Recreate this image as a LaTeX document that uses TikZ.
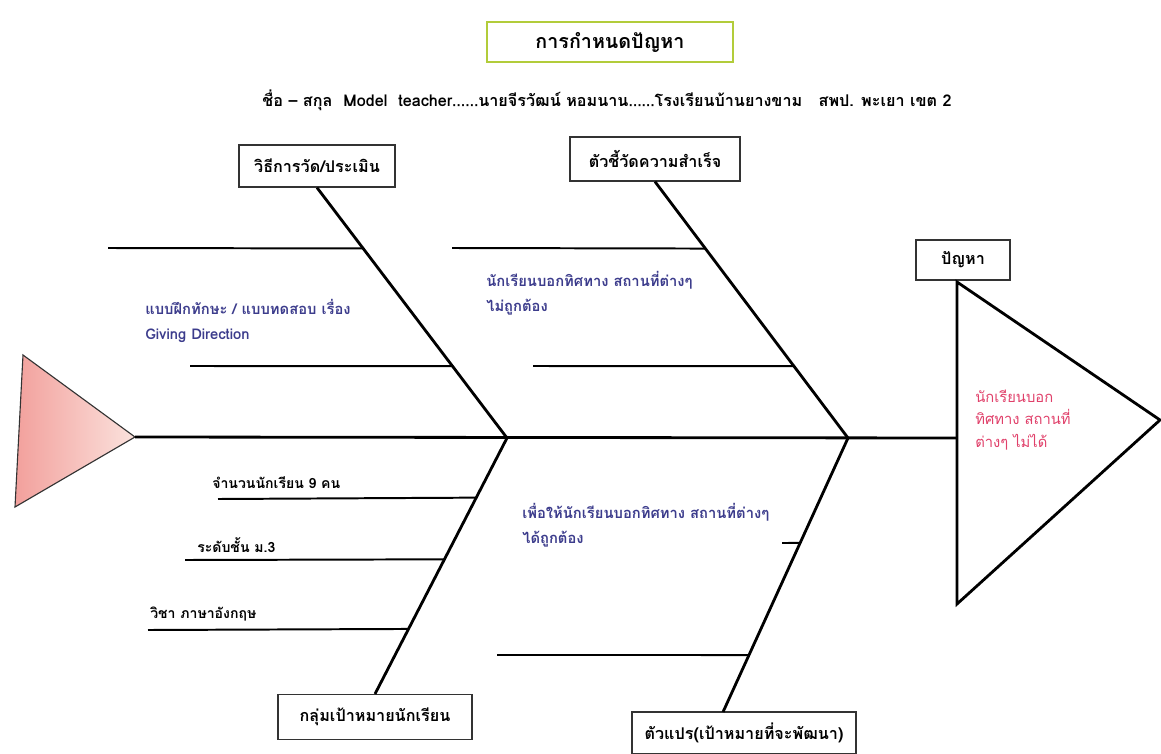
\documentclass[tikz,border=0pt]{standalone}
\usepackage{fontspec}
\newfontfamily\thaifont[Script=Thai]{Loma}
\usetikzlibrary{positioning,calc}
\definecolor{titlegreen}{HTML}{B2CC3A}
\definecolor{causeblue}{HTML}{3C3C8C}
\definecolor{effectred}{HTML}{E0406A}
\definecolor{tailpink}{HTML}{F2A09C}
\definecolor{taillight}{HTML}{FBE2DD}

\begin{document}
\begin{tikzpicture}[x=0.025cm,y=-0.025cm,
		headbox/.style={draw=black!80,line width=0.9pt,fill=white,inner sep=0pt,font=\thaifont\bfseries\fontsize{11.5}{13}\selectfont},
		bone/.style={line width=2pt},
		rib/.style={line width=1.4pt},
		cause/.style={anchor=west,inner sep=0pt,align=left,text=causeblue,font=\thaifont\bfseries\fontsize{10.5}{17.5}\selectfont},
		fact/.style={anchor=west,inner sep=0pt,font=\thaifont\bfseries\fontsize{10}{12}\selectfont}]
	\useasboundingbox (0,0) rectangle (1161,754);

	% heading
	\node[draw=titlegreen,line width=2pt,minimum width=6.15cm,minimum height=1cm,
		font=\thaifont\bfseries\fontsize{14}{16}\selectfont] (title) at (610,42) {การกำหนดปัญหา};
	\node[font=\thaifont\bfseries\fontsize{11.5}{13}\selectfont] (teacher) at (607,100)
		{ชื่อ – สกุล\ \ Model\ \ teacher……นายจีรวัฒน์ หอมนาน……โรงเรียนบ้านยางขาม\ \ \ สพป. พะเยา เขต 2};

	% boxes at the ends of the bones
	\node[headbox,minimum width=3.9cm,minimum height=1.05cm] (measure) at (317,166) {วิธีการวัด/ประเมิน};
	\node[headbox,minimum width=4.25cm,minimum height=1.1cm] (indicator) at (655,159) {ตัวชี้วัดความสำเร็จ};
	\node[headbox,minimum width=2.35cm,minimum height=1cm] (problem) at (963,260) {ปัญหา};
	\node[headbox,minimum width=4.85cm,minimum height=1.12cm] (target) at (375,717) {กลุ่มเป้าหมายนักเรียน};
	\node[headbox,minimum width=5.6cm,minimum height=1.05cm] (variable) at (744,733) {ตัวแปร(เป้าหมายที่จะพัฒนา)};

	\coordinate (tailtop) at (23,355);
	\coordinate (tailbot) at (15,507);
	\coordinate (tailtip) at (135,437);
	\coordinate (j1) at (507,438);
	\coordinate (j2) at (848,438);
	\coordinate (headtop) at (957,282);
	\coordinate (headtip) at (1160,420);
	\coordinate (headbot) at (957,604);
	\coordinate (varfoot) at (723,712);

	% fish tail and head
	\draw[line width=0.8pt,draw=black!80,left color=tailpink,right color=taillight]
		(tailtop) -- (tailtip) -- (tailbot) -- cycle;
	\draw[bone] (headtop) -- (headtip) -- (headbot) -- cycle;
	\draw[bone] (tailtip) -- (headtop |- j1);

	% bones
	\draw[bone] (measure.south) -- (j1);
	\draw[bone] (indicator.south) -- (j2);
	\draw[bone] (j1) -- (target.north);
	\draw[bone] (j2) -- (varfoot);

	% ribs
	\draw[rib] (108,248) -- ($(measure.south)!0.243!(j1)$);
	\draw[rib] (190,366) -- ($(measure.south)!0.713!(j1)$);
	\draw[rib] (452,248) -- ($(indicator.south)!0.261!(j2)$);
	\draw[rib] (533,366) -- ($(indicator.south)!0.720!(j2)$);
	\draw[rib] (218,499) -- ($(j1)!0.233!(target.north)$);
	\draw[rib] (185,560) -- ($(j1)!0.474!(target.north)$);
	\draw[rib] (148,630) -- ($(j1)!0.746!(target.north)$);
	\draw[rib] (782,543) -- ($(j2)!0.383!(varfoot)$);
	\draw[rib] (497,655) -- ($(j2)!0.792!(varfoot)$);

	% texts
	\node[cause] (practice) at (145,321) {แบบฝึกทักษะ / แบบทดสอบ เรื่อง\\Giving Direction};
	\node[cause] (wrongway) at (486,293) {นักเรียนบอกทิศทาง สถานที่ต่างๆ\\ไม่ถูกต้อง};
	\node[cause] (aim) at (522,525) {เพื่อให้นักเรียนบอกทิศทาง สถานที่ต่างๆ\\ได้ถูกต้อง};
	\node[anchor=west,inner sep=0pt,align=left,text=effectred,font=\thaifont\fontsize{10.5}{16}\selectfont]
		(effect) at (975,420) {นักเรียนบอก\\ทิศทาง สถานที่\\ต่างๆ ไม่ได้};
	\node[fact] (count) at (212,483) {จำนวนนักเรียน 9 คน};
	\node[fact] (grade) at (197,545) {ระดับชั้น ม.3};
	\node[fact] (subject) at (150,614) {วิชา ภาษาอังกฤษ};
\end{tikzpicture}
\end{document}
